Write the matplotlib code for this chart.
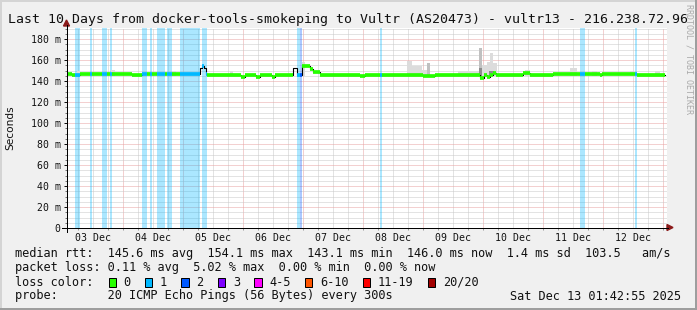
import numpy as np
import matplotlib
matplotlib.use("Agg")
import matplotlib.pyplot as plt
from matplotlib.lines import Line2D
from matplotlib.patches import Polygon, Rectangle

# ---------------- data ----------------
title = "Last 10 Days from docker-tools-smokeping to Vultr (AS20473) - vultr13 - 216.238.72.96"

# time in hours since 2025-12-03 00:00
t_start, t_end = 1.715, 241.715
day_labels = ["03 Dec", "04 Dec", "05 Dec", "06 Dec", "07 Dec",
              "08 Dec", "09 Dec", "10 Dec", "11 Dec", "12 Dec"]

y_max = 190.5
ytick_vals = [0, 20, 40, 60, 80, 100, 120, 140, 160, 180]
ytick_labels = ["0", "20 m", "40 m", "60 m", "80 m", "100 m", "120 m",
                "140 m", "160 m", "180 m"]

# median rtt segments: start hour, value (ms), loss code (-1 = thin line only)
med_t = [1.7, 3.7, 4.9, 6.9, 10.9, 11.7, 15.6, 17.6, 18.8, 19.7, 27.6, 31.7,
         33.7, 34.9, 35.7, 37.7, 40.9, 41.6, 43.7, 47.0, 54.9, 55.6, 56.5,
         57.3, 57.9, 71.3, 72.9, 77.3, 79.0, 83.7, 84.9, 92.1, 93.6, 94.9,
         95.6, 98.9, 100.0, 102.9, 118.9, 120.9, 126.8, 127.7, 144.1, 148.9,
         166.9, 168.5, 169.7, 170.9, 172.1, 173.3, 184.1, 186.9, 196.1,
         206.9, 209.0, 214.9, 215.7, 228.8, 229.6]
med_v = [146.5, 145.4, 145.4, 146.5, 146.5, 146.5, 146.5, 146.5, 146.5, 146.5,
         145.4, 146.5, 146.5, 146.5, 146.5, 146.5, 146.5, 146.5, 146.5, 146.5,
         152.0, 154.1, 152.0, 146.5, 145.3, 144.3, 145.8, 144.3, 145.3, 144.0,
         145.3, 152.0, 146.0, 146.0, 154.0, 151.2, 148.5, 145.4, 144.4, 145.5,
         145.5, 145.5, 144.8, 145.6, 143.1, 145.6, 144.3, 145.6, 147.5, 145.6,
         148.0, 145.4, 146.3, 146.3, 146.3, 145.5, 146.3, 146.3, 146.0]
med_loss = [0, 0, 1, 0, 1, 0, 1, 0, 1, 0, 0, 1, 0, 1, 0, 1, 0, 1, 0, 1,
            -1, 1, -1, 1, 0, 0, 0, 0, 0, 0, 0, -1, 1, 2, 0, 0, 0, 0, 0, 0,
            1, 0, 0, 0, 0, 0, 0, 0, 0, 0, 0, 0, 0, 1, 0, 0, 0, 1, 0]
med_end = 240.9

# loss background bands: start hour, end hour, lost pings
loss_start = [4.9, 10.9, 15.6, 18.8, 31.7, 34.9, 37.7, 41.6, 47.0, 55.6,
              93.6, 94.9, 126.8, 206.9, 228.8]
loss_end = [6.9, 11.7, 17.6, 19.7, 33.7, 35.7, 40.9, 43.7, 54.9, 57.7,
            94.9, 95.6, 127.7, 209.0, 229.6]
loss_count = [1, 1, 1, 1, 1, 1, 1, 1, 1, 1, 1, 2, 1, 1, 1]

# smoke (ping spread): start hour, end hour, top (ms), shade
smoke_t0 = [5.7, 19.3, 43.7, 66.9, 95.6, 137.6, 139.6, 143.6, 145.6, 158.1,
            161.6, 166.4, 167.6, 169.6, 170.9, 172.2, 185.0, 203.0, 211.7,
            226.9, 236.9, 166.4, 170.5]
smoke_t1 = [6.9, 20.9, 45.3, 68.1, 96.9, 139.6, 143.6, 145.6, 146.9, 161.6,
            166.4, 167.6, 169.6, 170.9, 172.2, 173.6, 187.0, 205.7, 213.7,
            228.1, 238.9, 167.6, 172.5]
smoke_top = [149.8, 150.5, 150.0, 149.8, 158.4, 159.4, 154.0, 150.5, 156.9,
             149.5, 149.5, 171.0, 155.0, 158.4, 167.0, 156.9, 150.5, 152.7,
             149.8, 149.8, 149.8, 152.0, 150.0]
smoke_shade = [0, 0, 0, 0, 0, 0, 0, 0, 1, 0, 0, 1, 0, 0, 0, 0, 0, 0, 0, 0, 0,
               2, 2]

loss_colors = ["#26ff00", "#00b8ff", "#0059ff", "#7e00ff", "#ff00ff",
               "#ff5500", "#ff0000", "#a10000"]
loss_names = ["0", "1", "2", "3", "4-5", "6-10", "11-19", "20/20"]
smoke_colors = ["#dcdcdc", "#c0c0c0", "#8c8c8c"]

legend_rows = [
    "median rtt:  145.6 ms avg  154.1 ms max  143.1 ms min  146.0 ms now  1.4 ms sd  103.5   am/s",
    "packet loss: 0.11 % avg  5.02 % max  0.00 % min  0.00 % now",
    "loss color:",
    "probe:       20 ICMP Echo Pings (56 Bytes) every 300s",
]
stamp = "Sat Dec 13 01:42:55 2025"

# ---------------- figure ----------------
W, H = 697, 310
fig = plt.figure(figsize=(W / 100, H / 100), dpi=100, facecolor="#f0f0f0")


def fx(px):
    return px / W


def fy(py):
    return 1 - py / H


PX = 0.72  # one pixel in points
ax = fig.add_axes([fx(67), fy(228), 600 / W, 200 / H])
ax.set_facecolor("white")
ax.set_xlim(t_start, t_end)
ax.set_ylim(0, y_max)
for s in ax.spines.values():
    s.set_visible(False)

# grid
for h in np.arange(6, t_end, 6):
    major = (h % 24 == 0)
    ax.axvline(h, color="#e8a3a3" if major else "#c8c8c8", lw=PX,
               dashes=(1, 1), zorder=0.5)
for v in np.arange(5, y_max, 5):
    major = (v % 20 == 0)
    ax.axhline(v, color="#e8a3a3" if major else "#c8c8c8", lw=PX,
               dashes=(1, 1), zorder=0.5)

# loss background bands
for a, b, c in zip(loss_start, loss_end, loss_count):
    ax.axvspan(a, b, color=loss_colors[c], alpha=0.33, lw=0, zorder=1)

# smoke
for a, b, top, sh in zip(smoke_t0, smoke_t1, smoke_top, smoke_shade):
    ax.bar(a, top - 145.0, width=b - a, bottom=145.0, align="edge",
           color=smoke_colors[sh], lw=0, zorder=2)

# thin median step line
ts = np.array(med_t + [med_end])
vs = np.array(med_v + [med_v[-1]])
ax.step(ts, vs, where="post", color="black", lw=0.8, zorder=3)

# thick median bands colored by loss
ends = med_t[1:] + [med_end]
for a, b, v, c in zip(med_t, ends, med_v, med_loss):
    if c < 0:
        continue
    ax.hlines(v, a, b, colors=loss_colors[c], lw=3.7 * PX, zorder=4,
              capstyle="butt")

# ticks
ax.set_xticks([12 + 24 * i for i in range(len(day_labels))], day_labels)
ax.set_xticks(np.arange(6, t_end, 6), minor=True)
ax.set_yticks(ytick_vals, ytick_labels)
ax.set_yticks(np.arange(0, y_max, 5), minor=True)
ax.tick_params(axis="x", which="major", length=0, pad=5 * PX,
               labelsize=7.1, colors="#111111")
ax.tick_params(axis="x", which="minor", length=2 * PX, width=PX,
               color="#999999")
ax.tick_params(axis="y", which="major", length=3 * PX, width=PX,
               pad=3.2 * PX, labelsize=7.1, colors="#111111")
ax.tick_params(axis="y", which="minor", length=2 * PX, width=PX,
               color="#777777")
for lab in ax.get_xticklabels() + ax.get_yticklabels():
    lab.set_fontfamily("DejaVu Sans Mono")

# axes lines with arrows
fig.add_artist(Line2D([fx(66.5), fx(66.5)], [fy(232), fy(25)], color="black",
                      lw=PX, transform=fig.transFigure))
fig.add_artist(Line2D([fx(62), fx(668)], [fy(227.5), fy(227.5)],
                      color="black", lw=PX, transform=fig.transFigure))
fig.add_artist(Polygon([[fx(63.5), fy(26)], [fx(69.5), fy(26)],
                        [fx(66.5), fy(20)]], closed=True, color="#8b1a1a",
                       transform=fig.transFigure))
fig.add_artist(Polygon([[fx(667), fy(224.5)], [fx(667), fy(230.5)],
                        [fx(673), fy(227.5)]], closed=True, color="#8b1a1a",
                       transform=fig.transFigure))

# title and side texts
fig.text(fx(8), fy(19), title, fontfamily="DejaVu Sans Mono", fontsize=9.55,
         ha="left", va="center", color="#111111")
fig.text(fx(10.5), fy(128), "Seconds", fontfamily="DejaVu Sans",
         fontsize=7.6, rotation=90, ha="center", va="center",
         color="#111111")
fig.text(fx(688.5), fy(4), "RRDTOOL / TOBI OETIKER",
         fontfamily="DejaVu Sans Mono", fontsize=6.0, rotation=270,
         ha="center", va="top", color="#aaaaaa")

# legend
row_y = [254, 268, 282, 296]
for txt, yy in zip(legend_rows, row_y):
    fig.text(fx(15), fy(yy), txt, fontfamily="DejaVu Sans Mono",
             fontsize=8.55, ha="left", va="center", color="#111111")
fig.text(fx(681), fy(296), stamp, fontfamily="DejaVu Sans Mono",
         fontsize=8.55, ha="right", va="center", color="#111111")

cw = 7.14
bx = 108.5
for col, name in zip(loss_colors, loss_names):
    fig.add_artist(Rectangle((fx(bx), fy(286.5)), 7.5 / W, 9 / H,
                             facecolor=col, edgecolor="black", lw=PX,
                             transform=fig.transFigure))
    fig.text(fx(bx + 15), fy(282), name, fontfamily="DejaVu Sans Mono",
             fontsize=8.55, ha="left", va="center", color="#111111")
    bx += 15 + len(name) * cw + 2 * cw

# 3D frame
fig.add_artist(Line2D([0, 1], [fy(0.5), fy(0.5)], color="#d4d4d4", lw=2 * PX,
                      transform=fig.transFigure))
fig.add_artist(Line2D([fx(0.5), fx(0.5)], [0, 1], color="#d4d4d4", lw=2 * PX,
                      transform=fig.transFigure))
fig.add_artist(Line2D([0, 1], [fy(308.5), fy(308.5)], color="#9e9e9e",
                      lw=3 * PX, transform=fig.transFigure))
fig.add_artist(Line2D([fx(695.5), fx(695.5)], [0, 1], color="#9e9e9e",
                      lw=3 * PX, transform=fig.transFigure))

fig.savefig("out.png", dpi=100, facecolor=fig.get_facecolor())
